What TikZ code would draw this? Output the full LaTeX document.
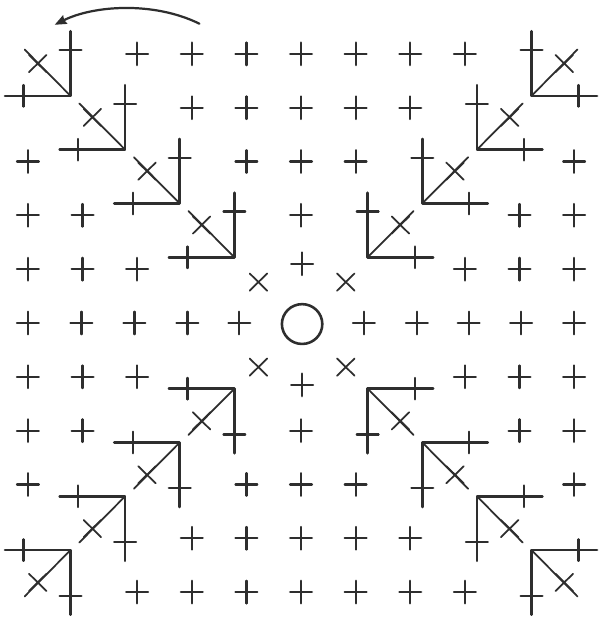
\documentclass[tikz,border=0pt]{standalone}
\usetikzlibrary{arrows.meta}
\begin{document}
\begin{tikzpicture}
% Crochet chart: square worked from the centre ring
\def\cellw{1.644cm}
\def\cellh{1.62cm}
\providecommand{\chartInk}{black!82}
\providecommand{\chartStitchWidth}{1.9pt}
\providecommand{\chartCornerWidth}{2.2pt}
\providecommand{\chartThinWidth}{1.5pt}
\begin{scope}[x=\cellw, y=-\cellh, line cap=round, line join=round,
  sc/.pic={\draw[draw=\chartInk, line width=\chartStitchWidth] (-0.2,0) -- (0.2,0) (0,-0.21) -- (0,0.21);},
  dec/.pic={\draw[draw=\chartInk, line width=\chartThinWidth] (-0.16,-0.16) -- (0.16,0.16) (-0.16,0.16) -- (0.16,-0.16);},
  inc/.pic={
    \draw[draw=\chartInk, line width=\chartCornerWidth] (-0.22,-1.42) -- (-0.22,-0.22) -- (-1.42,-0.22);
    \draw[draw=\chartInk, line width=\chartThinWidth] (-0.22,-0.22) -- (-1.06,-1.08);
    \draw[draw=\chartInk, line width=\chartStitchWidth] (-0.42,-1.07) -- (-0.02,-1.07) (-1.08,-0.42) -- (-1.08,-0.02);
    \pic at (-0.82,-0.82) {dec};
  }]
  % Background, fixes the page size
  \path[fill=white] (-0.511,-0.963) rectangle (10.42,10.5);
  % Turning arrow
  \coordinate (arrowstart) at (3.14,-0.56);
  \coordinate (arrowend) at (0.49,-0.54);
  \draw[draw=\chartInk, line width=\chartStitchWidth, -{Stealth[length=10pt, width=8pt, inset=1pt]}] (arrowstart) .. controls (2.3,-0.98) and (1.2,-0.9) .. (arrowend);
  % Centre ring
  \draw[draw=\chartInk, line width=\chartCornerWidth] (5.02,5.02) circle (0.37);
  % Decreases round the ring
  \pic at (4.22,4.24) {dec};
  \pic at (5.82,4.24) {dec};
  \pic at (4.22,5.82) {dec};
  \pic at (5.82,5.82) {dec};
  % Corner increases, top left
  \pic at (1,1) {inc};
  \pic at (2,2) {inc};
  \pic at (3,3) {inc};
  \pic at (4,4) {inc};
  % Corner increases, top right
  \pic[xscale=-1] at (9,1) {inc};
  \pic[xscale=-1] at (8,2) {inc};
  \pic[xscale=-1] at (7,3) {inc};
  \pic[xscale=-1] at (6,4) {inc};
  % Corner increases, bottom left
  \pic[yscale=-1] at (1,9) {inc};
  \pic[yscale=-1] at (2,8) {inc};
  \pic[yscale=-1] at (3,7) {inc};
  \pic[yscale=-1] at (4,6) {inc};
  % Corner increases, bottom right
  \pic[xscale=-1, yscale=-1] at (9,9) {inc};
  \pic[xscale=-1, yscale=-1] at (8,8) {inc};
  \pic[xscale=-1, yscale=-1] at (7,7) {inc};
  \pic[xscale=-1, yscale=-1] at (6,6) {inc};
  % Single crochet, row by row
  \path (2,0) pic {sc} (3,0) pic {sc} (4,0) pic {sc} (5,0) pic {sc} (6,0) pic {sc} (7,0) pic {sc} (8,0) pic {sc};
  \path (3,1) pic {sc} (4,1) pic {sc} (5,1) pic {sc} (6,1) pic {sc} (7,1) pic {sc};
  \path (0,2) pic {sc} (4,2) pic {sc} (5,2) pic {sc} (6,2) pic {sc} (10,2) pic {sc};
  \path (0,3) pic {sc} (1,3) pic {sc} (5,3) pic {sc} (9,3) pic {sc} (10,3) pic {sc};
  \path (0,4) pic {sc} (1,4) pic {sc} (2,4) pic {sc} (5.02,3.9) pic {sc} (8,4) pic {sc} (9,4) pic {sc} (10,4) pic {sc};
  \path (0,5) pic {sc} (0.98,5) pic {sc} (1.95,5) pic {sc} (2.92,5) pic {sc} (3.87,5) pic {sc};
  \path (6.15,5) pic {sc} (7.12,5) pic {sc} (8.07,5) pic {sc} (9.03,5) pic {sc} (10,5) pic {sc};
  \path (0,6) pic {sc} (1,6) pic {sc} (2,6) pic {sc} (5.02,6.15) pic {sc} (8,6) pic {sc} (9,6) pic {sc} (10,6) pic {sc};
  \path (0,7) pic {sc} (1,7) pic {sc} (5,7) pic {sc} (9,7) pic {sc} (10,7) pic {sc};
  \path (0,8) pic {sc} (4,8) pic {sc} (5,8) pic {sc} (6,8) pic {sc} (10,8) pic {sc};
  \path (3,9) pic {sc} (4,9) pic {sc} (5,9) pic {sc} (6,9) pic {sc} (7,9) pic {sc};
  \path (2,10) pic {sc} (3,10) pic {sc} (4,10) pic {sc} (5,10) pic {sc} (6,10) pic {sc} (7,10) pic {sc} (8,10) pic {sc};
\end{scope}
\end{tikzpicture}
\end{document}
